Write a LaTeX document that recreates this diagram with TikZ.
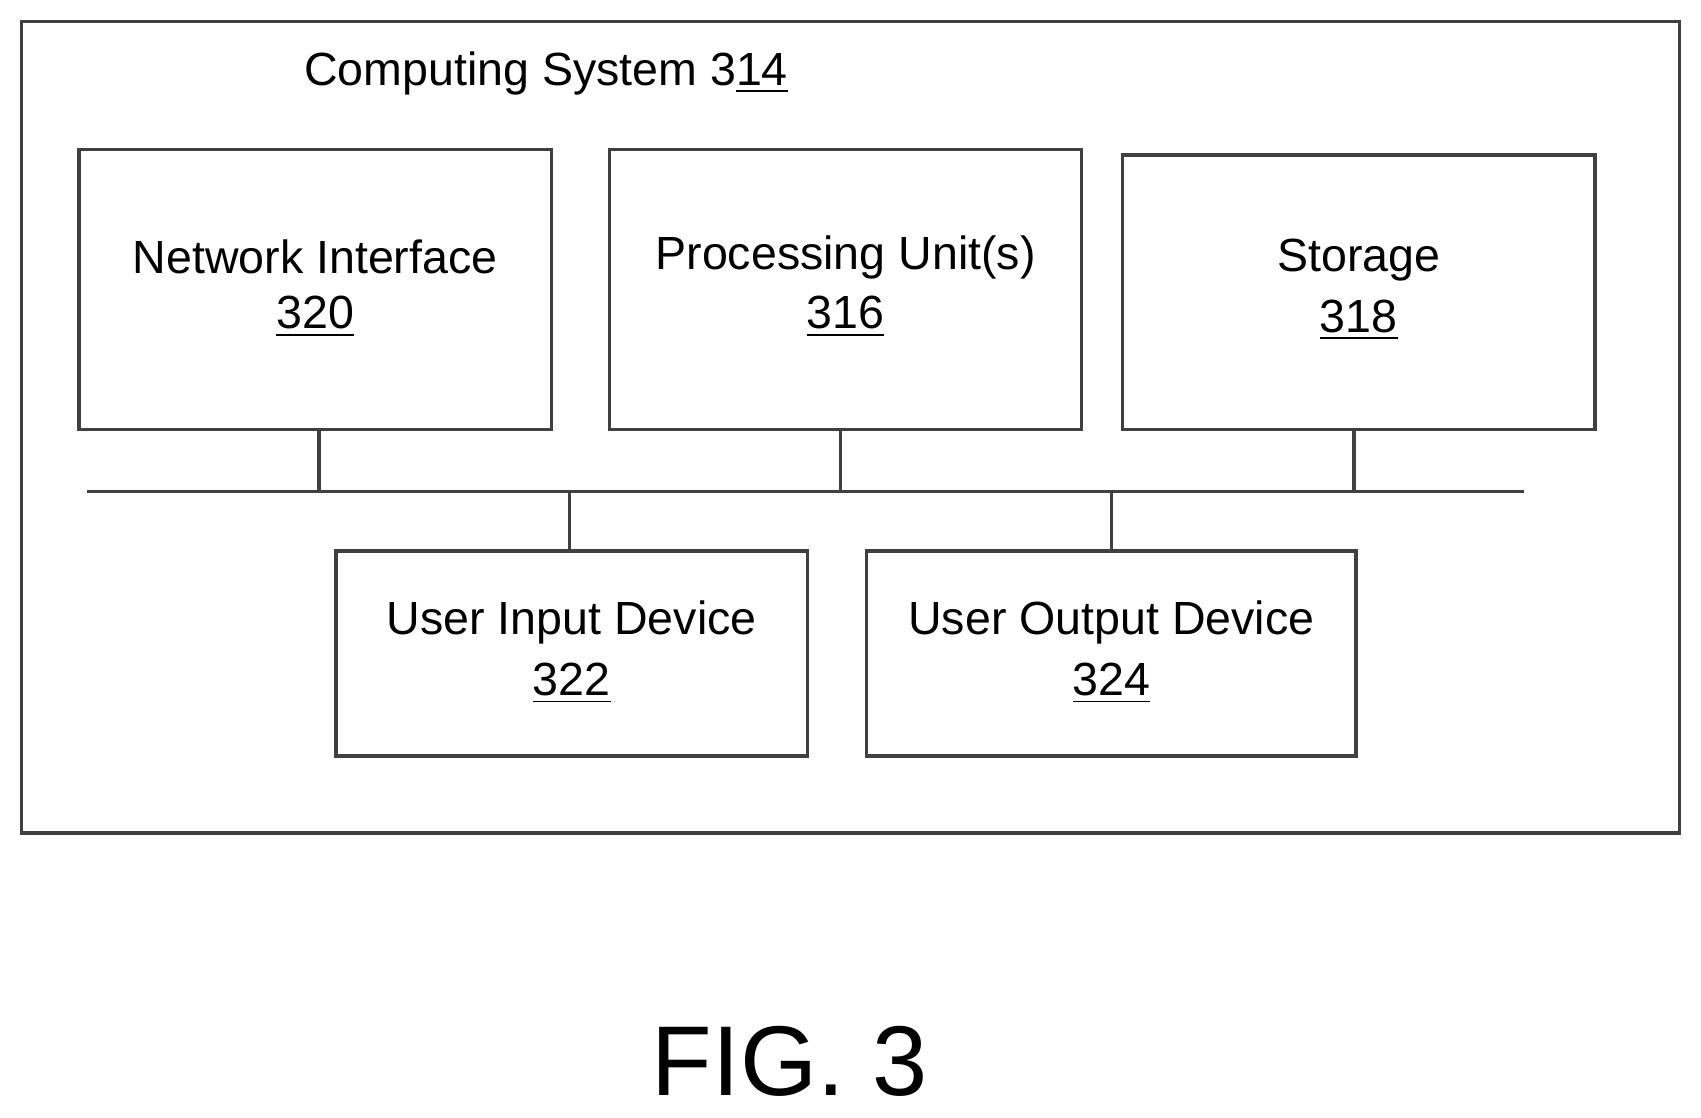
\documentclass[tikz,border=0pt]{standalone}
\usepackage{fontspec}
\setmainfont{Liberation Sans}
\usetikzlibrary{calc}
\tikzset{
  unit/.style={draw=black!75, line width=0.9pt, align=center, font=\fontsize{12.5}{30}\selectfont},
  link/.style={draw=black!75, line width=0.9pt}
}
\newcommand{\refnum}[1]{\underline{#1}}
\begin{document}
\begin{tikzpicture}[x=0.01cm, y=-0.01cm]
	\useasboundingbox (0,0) rectangle (1568,1030);
	% outer box
	\draw[link] (20,20) rectangle (1548,768);
	\node[anchor=west, font=\fontsize{12.2}{15}\selectfont] (title) at (268,68) {Computing System 3\refnum{14}};
	
	% upper row
	\node[unit, minimum width=4.35cm, minimum height=2.58cm] (ni) at (290.5,267) {};
	\node[font=\fontsize{12.2}{15}\selectfont] (nit) at (290.5,237) {Network Interface};
	\node[font=\fontsize{12.2}{15}\selectfont] (nin) at (290.5,292) {\refnum{320}};
	
	\node[unit, minimum width=4.35cm, minimum height=2.58cm] (pu) at (779.5,267) {};
	\node[font=\fontsize{12.2}{15}\selectfont] (put) at (779.5,237) {Processing Unit(s)};
	\node[font=\fontsize{12.2}{15}\selectfont] (pun) at (779.5,292) {\refnum{316}};
	
	\node[unit, minimum width=4.35cm, minimum height=2.53cm] (st) at (1252.5,269.5) {};
	\node[font=\fontsize{12.2}{15}\selectfont] (stt) at (1252.5,240) {Storage};
	\node[font=\fontsize{12.2}{15}\selectfont] (stn) at (1252.5,295) {\refnum{318}};
	
	% lower row
	\node[unit, minimum width=4.34cm, minimum height=1.89cm] (ui) at (527,602.5) {};
	\node[font=\fontsize{12.2}{15}\selectfont] (uit) at (527,574) {User Input Device};
	\node[font=\fontsize{12.2}{15}\selectfont] (uin) at (527,630) {\refnum{322}};
	
	\node[unit, minimum width=4.51cm, minimum height=1.89cm] (uo) at (1024.5,602.5) {};
	\node[font=\fontsize{12.2}{15}\selectfont] (uot) at (1024.5,574) {User Output Device};
	\node[font=\fontsize{12.2}{15}\selectfont] (uon) at (1024.5,630) {\refnum{324}};
	
	% bus
	\coordinate (busl) at (80,453);
	\coordinate (busr) at (1405,453);
	\draw[link] (busl) -- (busr);
	\coordinate (nitap) at ($(ni.south)+(3.5,0)$);
	\coordinate (putap) at ($(pu.south)+(-4.5,0)$);
	\coordinate (sttap) at ($(st.south)+(-4.5,0)$);
	\coordinate (uitap) at ($(ui.north)+(-2,0)$);
	\draw[link] (nitap) -- (nitap |- busl);
	\draw[link] (putap) -- (putap |- busl);
	\draw[link] (sttap) -- (sttap |- busl);
	\draw[link] (uitap) -- (uitap |- busl);
	\draw[link] (uo.north) -- (uo.north |- busl);
	
	\node[font=\fontsize{26}{30}\selectfont] (fig) at (728,978) {FIG. 3};
\end{tikzpicture}
\end{document}
